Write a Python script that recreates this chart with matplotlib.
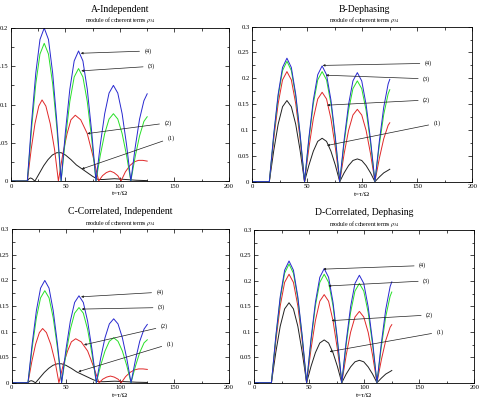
import matplotlib
matplotlib.use('Agg')
import matplotlib.pyplot as plt
from matplotlib.ticker import MultipleLocator, FuncFormatter

plt.rcParams['font.family'] = ['Liberation Serif', 'DejaVu Serif']
plt.rcParams['mathtext.fontset'] = 'stix'

# --- data ----------------------------------------------------------------
# panels A / C (independent)
t_bg_a = [0, 15, 18.9, 22.75, 26.6, 30.5, 34.4, 38.25, 42.1, 46, 50, 54, 58, 62, 66, 70, 74, 78,
          82, 86, 90, 94, 98, 102, 106, 110, 114, 118, 122, 125]
blue_a = [0, 0, .077, .141, .185, .200, .185, .141, .077, 0, .065, .120, .157, .170, .157, .120, .065, 0,
          .048, .088, .115, .125, .115, .088, .048, 0, .044, .081, .105, .114]
green_a = [0, 0, .069, .127, .166, .180, .166, .127, .069, 0, .056, .104, .136, .147, .136, .104, .056, 0,
           .034, .062, .081, .088, .081, .062, .034, 0, .032, .059, .078, .084]
t_red_a = [0, 15, 18.5, 22, 25.5, 28.5, 32, 36, 40, 43.5, 47.5, 51.5, 55, 59, 64, 70, 75, 80.5,
           84, 87.5, 91, 94.5, 98, 101, 105, 109, 113, 117, 121, 125]
red_a = [0, 0, .041, .075, .098, .106, .098, .075, .041, 0, .035, .062, .080, .086, .080, .062, .034, 0,
         .007, .011, .013, .011, .007, 0, .012, .020, .025, .027, .027, .026]
t_blk_a = [0, 15, 16.5, 18, 19.5, 21, 22, 26, 30, 34, 38, 42, 46, 50, 55, 60, 65, 70, 75, 80,
           85, 95, 105, 115, 125]
black_a = [0, 0, .003, .004, .003, .001, 0, .010, .020, .028, .034, .037, .037, .034, .028, .021, .016,
           .011, .006, .002, .002, .003, .002, .001, .0005]

# panels B / D (dephasing)
t_b = [0, 15.5, 19.5, 23.5, 27.5, 31.5, 35.5, 39.5, 43.5, 47.5, 51.5, 55.5, 59.5, 63.5, 67.5, 71.5, 75.5,
       79.5, 83.5, 87.5, 91.5, 95.5, 99.5, 103.5, 107.5, 111.5, 115.5, 119.5, 123.5, 125]
blue_b = [0, 0, .092, .169, .221, .239, .221, .169, .092, 0, .086, .158, .207, .224, .207, .158, .086,
          0, .081, .149, .195, .211, .195, .149, .081, 0, .078, .144, .189, .198]
green_b = [0, 0, .089, .165, .215, .233, .215, .165, .089, 0, .082, .151, .197, .213, .197, .151, .082,
           0, .075, .138, .180, .195, .180, .138, .075, 0, .071, .130, .170, .178]
red_b = [0, 0, .082, .151, .197, .213, .197, .151, .082, 0, .066, .122, .160, .173, .160, .122, .066,
         0, .054, .099, .129, .140, .129, .099, .054, 0, .045, .083, .109, .114]
black_b = [0, 0, .060, .111, .145, .157, .145, .111, .060, 0, .032, .059, .078, .084, .078, .059, .032,
           0, .017, .031, .041, .044, .041, .031, .017, 0, .009, .017, .022, .024]

labels = ['(1)', '(2)', '(3)', '(4)']
colors = ['#202020', '#e02828', '#28e028', '#2828d0']

panels = [
    dict(title='A-Independent', pos=[0.0229, 0.5486, 0.454, 0.3815], ymax=0.2,
         curves=[(t_blk_a, black_a), (t_red_a, red_a), (t_bg_a, green_a), (t_bg_a, blue_a)],
         notes=[((65, 0.0157), (147, 0.056)), ((70, 0.062), (144, 0.076)),
                ((64.5, 0.144), (129, 0.150)), ((64, 0.167), (125.7, 0.170))],
         ttl=(120, 10), sub=(120, 20)),
    dict(title='B-Dephasing', pos=[0.5256, 0.547, 0.4583, 0.3865], ymax=0.3,
         curves=[(t_b, black_b), (t_b, red_b), (t_b, green_b), (t_b, blue_b)],
         notes=[((68, 0.070), (168, 0.113)), ((68, 0.148), (158.5, 0.158)),
                ((67, 0.206), (158.5, 0.199)), ((64, 0.225), (160, 0.229))],
         ttl=(364, 10), sub=(364, 20)),
    dict(title='C-Correlated, Independent', pos=[0.0244, 0.0456, 0.452, 0.3825], ymax=0.3,
         curves=[(t_blk_a, black_a), (t_red_a, red_a), (t_bg_a, green_a), (t_bg_a, blue_a)],
         notes=[((61.4, 0.0215), (146, 0.076)), ((66.6, 0.074), (140.6, 0.110)),
                ((64.5, 0.144), (138, 0.147)), ((63.9, 0.168), (136.7, 0.177))],
         ttl=(120, 211.5), sub=(120, 222.5)),
    dict(title='D-Correlated, Dephasing', pos=[0.530, 0.0456, 0.458, 0.381], ymax=0.3,
         curves=[(t_b, black_b), (t_b, red_b), (t_b, green_b), (t_b, blue_b)],
         notes=[((68.4, 0.061), (168.9, 0.0996)), ((70.3, 0.122), (159.4, 0.133)),
                ((67.3, 0.190), (156.7, 0.200)), ((62.7, 0.223), (153, 0.230))],
         ttl=(364, 212.5), sub=(364, 224)),
]

fig = plt.figure(figsize=(4.8, 4.01), dpi=100)
W, H = 480, 401

for p in panels:
    ax = fig.add_axes(p['pos'])
    for (t, y), c in zip(p['curves'], colors):
        ax.plot(t, y, color=c, lw=0.7)
    for (xy, xyt), lab in zip(p['notes'], labels):
        ax.annotate(lab, xy=xy, xytext=xyt, fontsize=4.5, ha='center', va='center',
                    arrowprops=dict(arrowstyle='-|>', lw=0.5, color='#202020', mutation_scale=3,
                                    shrinkA=1.5, shrinkB=0))
    ax.set_xlim(0, 200)
    ax.set_ylim(0, p['ymax'])
    ax.xaxis.set_major_locator(MultipleLocator(50))
    ax.xaxis.set_minor_locator(MultipleLocator(25))
    ax.yaxis.set_major_locator(MultipleLocator(0.05))
    ax.yaxis.set_minor_locator(MultipleLocator(0.025))
    ax.yaxis.set_major_formatter(FuncFormatter(lambda v, pos: '%g' % round(v, 3)))
    ax.tick_params(which='both', direction='in', top=True, right=True, labelsize=4.8,
                   width=0.5, pad=2)
    ax.tick_params(which='major', length=3)
    ax.tick_params(which='minor', length=1.8)
    for s in ax.spines.values():
        s.set_linewidth(0.6)
    ax.set_xlabel('t=τ/Ω', fontsize=5, labelpad=1.5)
    fig.text(p['ttl'][0] / W, 1 - p['ttl'][1] / H, p['title'], fontsize=7,
             ha='center', va='center')
    fig.text(p['sub'][0] / W, 1 - p['sub'][1] / H, r'module of coherent terms $\rho_{34}$',
             fontsize=4.2, ha='center', va='center')

fig.savefig('out.png', dpi=100)
